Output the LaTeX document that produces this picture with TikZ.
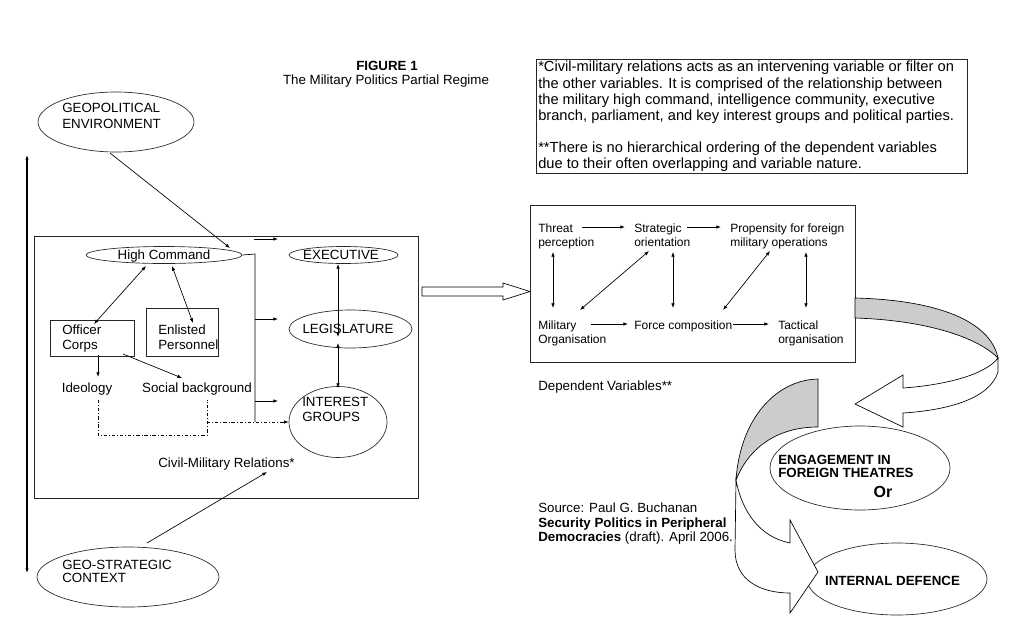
\documentclass[tikz,border=0pt]{standalone}
\usepackage{fontspec}
\setmainfont{Liberation Sans}
\usetikzlibrary{shapes.geometric,arrows.meta}
\begin{document}
\begin{tikzpicture}[x=0.75pt,y=-0.75pt,
  ln/.style={line width=0.5pt,draw=black},
  tip/.style={-{Latex[length=3.5pt,width=2.6pt]}},
  dtip/.style={{Latex[length=3.5pt,width=2.6pt]}-{Latex[length=3.5pt,width=2.6pt]}},
  ell/.style={ellipse,draw=black!85,line width=0.5pt,inner sep=0pt,fill=white},
  boxn/.style={rectangle,draw=black!85,line width=0.5pt,inner sep=0pt},
  strutted/.style={execute at begin node=\strut,execute at end node=\strut,yshift=-1.4pt},
  txt/.style={inner sep=0pt,font=\fontsize{10}{11.5}\selectfont,align=left,strutted},
  smalltxt/.style={inner sep=0pt,font=\fontsize{9}{11}\selectfont,align=left,strutted},
  notetxt/.style={inner sep=0pt,font=\fontsize{11}{12.25}\selectfont,align=left,strutted},
  bigtxt/.style={inner sep=0pt,font=\fontsize{10}{10}\selectfont\bfseries,align=left,strutted},
  dashdot/.style={line width=0.5pt,dash pattern=on 2.5pt off 1.5pt on 0.6pt off 1.5pt},
  ribbon/.style={line width=0.5pt,draw=black},
]
\useasboundingbox[fill=white] (0,0) rectangle (1024,625);

% title
\node[inner sep=0pt,font=\fontsize{10}{11.5}\selectfont\bfseries] (fig) at (387,66) {FIGURE 1};
\node[txt] (sub) at (386,80) {The Military Politics Partial Regime};

% left long arrow
\coordinate (vtop) at (27,155);
\coordinate (vbot) at (27,573);
\draw[line width=1pt,dtip] (vtop) -- (vbot);

% outer ellipses
\node[ell,minimum width=117pt,minimum height=45pt] (geo) at (116,122) {};
\node[txt,anchor=west,font=\fontsize{10}{12}\selectfont] (geot) at (62,116) {GEOPOLITICAL\\ENVIRONMENT};
\node[ell,minimum width=136.5pt,minimum height=45pt] (gs) at (128,577) {};
\node[txt,anchor=west,font=\fontsize{10}{10}\selectfont] (gst) at (62,571.5) {GEO-STRATEGIC\\CONTEXT};

% civil-military box
\node[boxn,minimum width=288pt,minimum height=196.5pt] (cmr) at (226,367) {};

\node[ell,minimum width=117pt,minimum height=12.75pt] (hc) at (164,255) {};
\node[txt] (hct) at (164,255) {High Command};
\node[ell,minimum width=81.75pt,minimum height=12.75pt] (exec) at (343.5,255) {};
\node[txt] (exect) at (341,255) {EXECUTIVE};
\node[ell,minimum width=92.25pt,minimum height=28.5pt] (leg) at (350.5,329) {};
\node[txt] (legt) at (348,329) {LEGISLATURE};
\node[ell,minimum width=73.5pt,minimum height=53.25pt] (ig) at (338,422) {};
\node[txt,anchor=west,font=\fontsize{10}{11.25}\selectfont] (igt) at (302,409.5) {INTEREST\\GROUPS};

\node[boxn,minimum width=63pt,minimum height=27pt] (oc) at (92,338) {};
\node[txt,anchor=west] (oct) at (62,337.5) {Officer\\Corps};
\node[boxn,minimum width=54pt,minimum height=36pt] (ep) at (182,332) {};
\node[txt,anchor=west] (ept) at (158,337.5) {Enlisted\\Personnel};

\node[txt] (ideo) at (87,388) {Ideology};
\node[txt] (soc) at (197,388) {Social background};
\node[txt] (cmrt) at (226.5,463) {Civil-Military Relations*};

% connectors inside
\coordinate (hcin) at (230,248);
\draw[ln,tip] (110,153) -- (hcin);
\coordinate (a1s) at (254,239); \coordinate (a1e) at (278,239);
\draw[ln,tip] (a1s) -- (a1e);
\draw[ln] (hc.east) -- (255,254) -- (255,422);
\draw[ln,tip] (255,319) -- (278,319);
\draw[ln,tip] (255,401) -- (278,401);

\draw[ln,dtip] (338,264) -- (338,337);
\draw[ln,dtip] (338,343) -- (338,388);

\draw[ln,dtip] (146,266) -- (94,324);
\draw[ln,dtip] (172,266) -- (193,323);
\draw[ln,tip] (98,355) -- (98,377);
\draw[ln,tip] (123,354) -- (182,378);

\draw[dashdot] (98,400) -- (98,435) -- (207,435) -- (207,400);
\draw[dashdot,tip] (207,422) -- (ig.west);

\coordinate (cmrin) at (267,472);
\draw[ln,tip] (147,543) -- (cmrin);

% hollow arrow
\draw[ln,fill=white] (422,287) -- (503,287) -- (503,283) -- (530,291.5) -- (503,300) -- (503,296) -- (422,296) -- cycle;

% note box
\node[boxn,minimum width=323.25pt,minimum height=85.5pt] (note) at (751.5,116) {};
\node[notetxt,anchor=west] (note1) at (538,91.5) {*Civil-military relations acts as an intervening variable or filter on\\the other variables. It is comprised of the relationship between\\the military high command, intelligence community, executive\\branch, parliament, and key interest groups and political parties.};
\node[notetxt,anchor=west] (note2) at (538,155.5) {**There is no hierarchical ordering of the dependent variables\\due to their often overlapping and variable nature.};

% dependent variables box
\node[boxn,minimum width=243.75pt,minimum height=117.75pt] (dep) at (692.5,283.5) {};
\node[smalltxt,anchor=west] (thr) at (538,235.5) {Threat\\perception};
\node[smalltxt,anchor=west] (str) at (634,235.5) {Strategic\\orientation};
\node[smalltxt,anchor=west] (prp) at (730,235.5) {Propensity for foreign\\military operations};
\node[smalltxt,anchor=west] (mil) at (538,332.5) {Military\\Organisation};
\node[smalltxt,anchor=west] (frc) at (634,325) {Force composition};
\node[smalltxt,anchor=west] (tac) at (778,332.5) {Tactical\\organisation};

\draw[ln,tip] (582,227) -- (625,227);
\draw[ln,tip] (687,227) -- (721,227);
\draw[ln,tip] (591,324) -- (628,324);
\draw[ln,tip] (733,324) -- (769,324);
\draw[ln,dtip] (553,252) -- (553,308);
\draw[ln,dtip] (673,252) -- (673,308);
\draw[ln,dtip] (806,252) -- (806,308);
\draw[ln,dtip] (649,251) -- (580,310);
\draw[ln,dtip] (770,251) -- (723,310);

\node[txt,anchor=west] (dvt) at (538,386) {Dependent Variables**};

\node[txt,anchor=west,font=\fontsize{10}{10.9}\selectfont] (src) at (538,522.5) {Source: Paul G. Buchanan\\\textbf{Security Politics in Peripheral}\\\textbf{Democracies} (draft). April 2006.};

% outcome ellipses and ribbons
\node[ell,minimum width=135pt,minimum height=54pt] (intd) at (897,579) {};
\node[inner sep=0pt,font=\fontsize{10}{10}\selectfont\bfseries] (intdt) at (892.5,581) {INTERNAL DEFENCE};

\filldraw[ribbon,fill=gray!40] (818,379) .. controls (775,380) and (740,420) .. (736,480) .. controls (750,445) and (780,427) .. (818,427) -- cycle;
\filldraw[ribbon,fill=white] (736,480) -- (735,550) .. controls (735,580) and (760,593) .. (790,593) -- (790,613) -- (818,572) -- (790,520) -- (790,543) .. controls (760,537) and (742,512) .. (736,480) -- cycle;

\node[ell,minimum width=135pt,minimum height=63pt] (eng) at (860,468) {};
\node[bigtxt,anchor=west] (engt) at (778,466.5) {ENGAGEMENT IN\\FOREIGN THEATRES};
\node[inner sep=0pt,font=\fontsize{12}{12}\selectfont\bfseries] (ort) at (883,491.5) {Or};

\filldraw[ribbon,fill=gray!40] (855,298) .. controls (935,300) and (990,320) .. (998,358) .. controls (975,335) and (920,320) .. (855,318) -- cycle;
\filldraw[ribbon,fill=white] (998,358) -- (998,372) .. controls (990,398) and (950,410) .. (903,413) -- (903,427) -- (855,404) -- (903,375) -- (903,388) .. controls (945,385) and (985,375) .. (998,358) -- cycle;

\end{tikzpicture}
\end{document}
